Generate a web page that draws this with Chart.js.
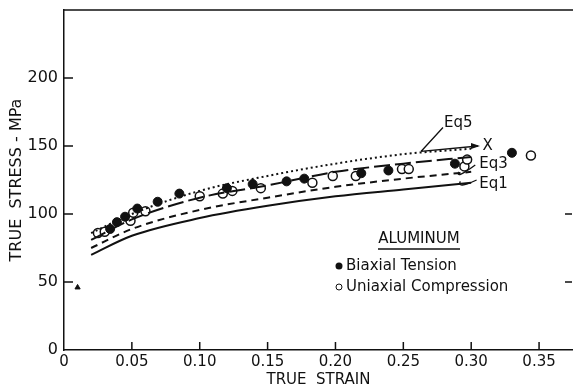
<!DOCTYPE html>
<html>
<head>
<meta charset="utf-8">
<script src="https://cdn.jsdelivr.net/npm/chart.js@4.4.1/dist/chart.umd.min.js"></script>
<style>
  body { margin: 0; background: #fff; }
  canvas { display: block; }
</style>
</head>
<body>
<canvas id="chart1" width="573" height="389"></canvas>
<script>
/************* data ********* */
const strainGrid = [0.02, 0.05, 0.10, 0.15, 0.20, 0.25, 0.30];
const eq1 = [70, 84, 97, 106, 113, 118, 123];
const eqMid = [75, 89, 103, 112, 120, 126, 131];
const eq3 = [81, 96, 112, 121, 131, 137, 142];
const eq5 = [86, 100, 117, 128, 137, 144, 148];

const biaxStrain = [0.034, 0.039, 0.045, 0.054, 0.069, 0.085, 0.12, 0.139, 0.164, 0.177, 0.219, 0.239, 0.288, 0.33];
const biaxStress = [89, 94, 98, 104, 109, 115, 119, 122, 124, 126, 130, 132, 137, 145];

const uniStrain = [0.025, 0.030, 0.049, 0.051, 0.06, 0.100, 0.117, 0.124, 0.145, 0.183, 0.198, 0.215, 0.249, 0.254, 0.295, 0.297, 0.344];
const uniStress = [86, 87, 95, 101, 102, 113, 115, 117, 119, 123, 128, 128, 133, 133, 135, 140, 143];

const strayMark = [{x: 0.01, y: 46}];
const eq5End = {x: 0.309, y: 150};

const xTicks = [0, 0.05, 0.10, 0.15, 0.20, 0.25, 0.30, 0.35];
const yTicks = [0, 50, 100, 150, 200];
const rightTicks = [50, 100];

const ink = '#111';
const font = 'DejaVu Sans, Verdana, sans-serif';

function pts(xs, ys) { return xs.map((x, i) => ({x: x, y: ys[i]})); }

function curve(data, dash) {
    return {
        type: 'line',
        data: pts(strainGrid, data),
        borderColor: ink,
        borderWidth: 2,
        borderDash: dash,
        pointRadius: 0,
        fill: false,
        cubicInterpolationMode: 'monotone'
    };
}

/************* extras: inward ticks, frame, labels, legend ********* */
const extras = {
    id: 'extras',
    afterDraw(chart) {
        const ctx = chart.ctx;
        const xs = chart.scales.x, ys = chart.scales.y;
        const a = chart.chartArea;
        ctx.save();
        ctx.strokeStyle = ink;
        ctx.fillStyle = ink;
        ctx.lineWidth = 1.5;

        // top frame
        ctx.beginPath();
        ctx.moveTo(a.left, a.top); ctx.lineTo(a.right, a.top);
        ctx.stroke();

        // inward ticks
        ctx.beginPath();
        xTicks.forEach(v => { if (v > 0) { const p = xs.getPixelForValue(v); ctx.moveTo(p, a.bottom); ctx.lineTo(p, a.bottom - 8); } });
        yTicks.forEach(v => { if (v > 0) { const p = ys.getPixelForValue(v); ctx.moveTo(a.left, p); ctx.lineTo(a.left + 9, p); } });
        rightTicks.forEach(v => { const p = ys.getPixelForValue(v); ctx.moveTo(a.right - 1, p); ctx.lineTo(a.right - 8, p); });
        ctx.stroke();

        // Eq5 pointer and arrow to X
        const P = (x, y) => [xs.getPixelForValue(x), ys.getPixelForValue(y)];
        let [j1, j2] = P(0.263, 146);
        let [e1, e2] = P(eq5End.x - 0.004, eq5End.y);
        ctx.lineWidth = 1.3;
        ctx.beginPath();
        ctx.moveTo(j1, j2); ctx.lineTo(j1 + 22, j2 - 24);
        ctx.moveTo(j1, j2); ctx.lineTo(e1, e2);
        ctx.stroke();
        ctx.beginPath();
        ctx.moveTo(e1 + 2, e2); ctx.lineTo(e1 - 7, e2 - 3); ctx.lineTo(e1 - 7, e2 + 3); ctx.closePath();
        ctx.fill();

        // small braces near Eq3 / Eq1
        const brace = (x0, y0, y1) => {
            const [bx, by] = P(x0, y0);
            const [cx, cy] = P(x0 + 0.012, y1);
            ctx.beginPath();
            ctx.moveTo(bx, by);
            ctx.quadraticCurveTo(bx - 4, by + 8, cx, cy);
            ctx.stroke();
        };
        brace(0.291, 131, 136);
        brace(0.292, 124, 125);

        ctx.font = '15px ' + font;
        ctx.textBaseline = 'middle';
        ctx.textAlign = 'left';
        let [tx, ty] = P(0.280, 167); ctx.fillText('Eq5', tx, ty);
        [tx, ty] = P(eq5End.x, eq5End.y); ctx.fillText('X', tx - 1, ty);
        [tx, ty] = P(0.306, 137); ctx.fillText('Eq3', tx, ty);
        [tx, ty] = P(0.306, 122); ctx.fillText('Eq1', tx, ty);

        // legend
        ctx.font = '15px ' + font;
        ctx.textAlign = 'center';
        ctx.fillText('ALUMINUM', 419, 239);
        ctx.lineWidth = 1.5;
        ctx.beginPath(); ctx.moveTo(378, 249); ctx.lineTo(460, 249); ctx.stroke();
        ctx.textAlign = 'left';
        ctx.fillText('Biaxial Tension', 346, 266);
        ctx.fillText('Uniaxial Compression', 346, 287);
        ctx.beginPath(); ctx.arc(339, 266, 3.5, 0, Math.PI * 2); ctx.fill();
        ctx.lineWidth = 1;
        ctx.beginPath(); ctx.arc(339, 287, 3, 0, Math.PI * 2); ctx.stroke();
        ctx.restore();
    }
};

new Chart("chart1", {
    type: 'scatter',
    data: {
        datasets: [
            curve(eq1, []),
            curve(eqMid, [7, 5]),
            curve(eq3, [16, 5]),
            curve(eq5, [2, 3]),
            {
                data: pts(biaxStrain, biaxStress),
                pointRadius: 4.5,
                pointBackgroundColor: ink,
                pointBorderColor: ink,
                pointBorderWidth: 1
            },
            {
                data: pts(uniStrain, uniStress),
                pointRadius: 4.5,
                pointBackgroundColor: '#fff',
                pointBorderColor: ink,
                pointBorderWidth: 1.5
            },
            {
                data: strayMark,
                pointStyle: 'triangle',
                pointRadius: 3,
                pointBackgroundColor: ink,
                pointBorderColor: ink
            }
        ]
    },
    options: {
        responsive: false,
        animation: false,
        layout: { autoPadding: false, padding: { top: 10, right: 0 } },
        plugins: { legend: { display: false }, tooltip: { enabled: false } },
        scales: {
            x: {
                type: 'linear',
                min: 0,
                max: 0.375,
                afterFit: s => { s.height = 39; s.paddingLeft = 0; s.paddingRight = 0; },
                grid: { display: true, drawOnChartArea: false, drawTicks: false, color: ink },
                border: { color: ink, width: 1.5 },
                ticks: {
                    stepSize: 0.05,
                    includeBounds: false,
                    padding: 3,
                    color: ink,
                    font: { family: font, size: 15 },
                    maxRotation: 0,
                    callback: v => v === 0 ? '0' : v.toFixed(2)
                },
                title: { display: true, text: 'TRUE  STRAIN', color: ink, font: { family: font, size: 15 }, padding: 0 }
            },
            y: {
                min: 0,
                max: 250,
                afterFit: s => { s.width = 64; s.paddingTop = 0; s.paddingBottom = 0; },
                grid: { display: true, drawOnChartArea: false, drawTicks: false, color: ink },
                border: { color: ink, width: 1.5 },
                ticks: {
                    stepSize: 50,
                    padding: 6,
                    color: ink,
                    font: { family: font, size: 16 },
                    callback: v => v === 250 ? '' : String(v)
                },
                title: { display: true, text: 'TRUE  STRESS - MPa', color: ink, font: { family: font, size: 16 }, padding: { top: 7 } }
            }
        }
    },
    plugins: [extras]
});
</script>
</body>
</html>
